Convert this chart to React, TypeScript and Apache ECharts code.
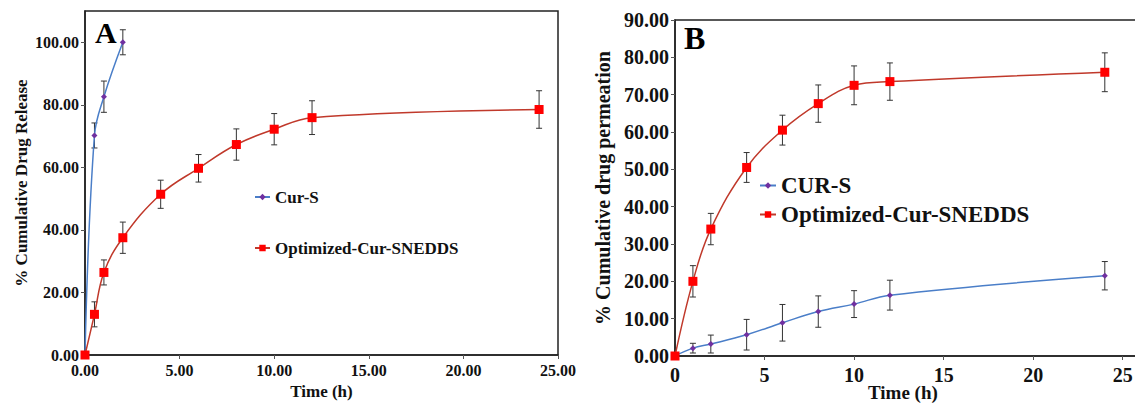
import React, { useEffect, useRef } from "react";
import * as echarts from "echarts";

// Panel A: in-vitro drug release
const timeACur = [0, 0.5, 1, 2];
const relACur = [0, 70.2, 82.6, 100];
const errACur = [0, 4.0, 5.0, 4.0];
const timeASn = [0, 0.5, 1, 2, 4, 6, 8, 10, 12, 24];
const relASn = [0, 13.0, 26.4, 37.5, 51.4, 59.7, 67.3, 72.2, 75.9, 78.5];
const errASn = [0, 4.0, 4.0, 5.0, 4.5, 4.4, 5.0, 5.0, 5.4, 6.0];

// Panel B: ex-vivo permeation
const timeB = [0, 1, 2, 4, 6, 8, 10, 12, 24];
const permBCur = [0, 2.1, 3.2, 5.7, 8.9, 11.9, 13.9, 16.3, 21.5];
const errBCur = [0, 1.3, 2.4, 4.1, 4.9, 4.2, 3.6, 4.0, 3.8];
const permBSn = [0, 20.0, 34.0, 50.5, 60.5, 67.6, 72.5, 73.5, 76.0];
const errBSn = [0, 4.2, 4.2, 4.0, 4.0, 5.0, 5.2, 5.0, 5.2];

const FONT = "'Liberation Serif', 'Times New Roman', serif";
const BLUE = "#4a7ec8";
const PURPLE = "#7030a0";
const DARKRED = "#c0392b";
const RED = "#ff0000";

const pts = (xs: number[], ys: number[]) => xs.map((x, i) => [x, ys[i]]);
const errs = (xs: number[], ys: number[], es: number[]) =>
  xs
    .map((x, i) => [x, ys[i] - es[i], ys[i] + es[i], es[i]])
    .filter((d) => d[3] > 0);

const errRender = (params: any, api: any) => {
  const x = api.value(0);
  const top = api.coord([x, api.value(2)]);
  const bot = api.coord([x, api.value(1)]);
  const w = 3;
  const st = { stroke: "#333", lineWidth: 1 };
  return {
    type: "group",
    children: [
      { type: "line", shape: { x1: top[0], y1: top[1], x2: bot[0], y2: bot[1] }, style: st },
      { type: "line", shape: { x1: top[0] - w, y1: top[1], x2: top[0] + w, y2: top[1] }, style: st },
      { type: "line", shape: { x1: bot[0] - w, y1: bot[1], x2: bot[0] + w, y2: bot[1] }, style: st },
    ],
  };
};

export default function App() {
  const ref = useRef<HTMLDivElement>(null);
  useEffect(() => {
    if (!ref.current) return;
    const chart = echarts.init(ref.current, undefined, { renderer: "svg" });
    const axisLine = { show: true, lineStyle: { color: "#222", width: 1.5 } };
    const tick = { show: true, length: 4, lineStyle: { color: "#555" } };
    const lbl = (size: number, margin: number, fmt: (v: number) => string) => ({
      fontFamily: FONT,
      fontWeight: "bold" as const,
      fontSize: size,
      color: "#111",
      margin,
      formatter: fmt,
    });
    const curStyle = (name: string, xi: number, data: number[][]) => ({
      name,
      type: "line",
      xAxisIndex: xi,
      yAxisIndex: xi,
      data,
      smooth: 0.4,
      symbol: "diamond",
      symbolSize: 6,
      showSymbol: true,
      lineStyle: { color: BLUE, width: 1.5 },
      itemStyle: { color: PURPLE },
      z: 3,
    });
    const snStyle = (name: string, xi: number, data: number[][]) => ({
      name,
      type: "line",
      xAxisIndex: xi,
      yAxisIndex: xi,
      data,
      smooth: 0.4,
      symbol: "rect",
      symbolSize: 9,
      showSymbol: true,
      lineStyle: { color: DARKRED, width: 1.5 },
      itemStyle: { color: RED },
      z: 3,
    });
    const errSeries = (name: string, xi: number, data: number[][]) => ({
      name,
      type: "custom",
      xAxisIndex: xi,
      yAxisIndex: xi,
      data,
      renderItem: errRender,
      encode: { x: 0, y: [1, 2] },
      silent: true,
      z: 2,
    });

    chart.setOption({
      animation: false,
      backgroundColor: "#fff",
      textStyle: { fontFamily: FONT },
      grid: [
        { left: 85, top: 11, width: 473, height: 344, show: true, borderColor: "#222", borderWidth: 1.5, backgroundColor: "transparent", outerBoundsMode: "none" },
        { left: 675, top: 20, width: 471, height: 336, show: true, borderColor: "#222", borderWidth: 1.5, backgroundColor: "transparent", outerBoundsMode: "none" },
      ],
      xAxis: [
        {
          gridIndex: 0,
          type: "value",
          min: 0,
          max: 25,
          interval: 5,
          splitLine: { show: false },
          axisLine,
          axisTick: tick,
          axisLabel: lbl(16, 7, (v: number) => v.toFixed(2)),
          name: "Time (h)",
          nameLocation: "middle",
          nameGap: 24,
          nameTextStyle: { fontFamily: FONT, fontWeight: "bold", fontSize: 17, color: "#111" },
        },
        {
          gridIndex: 1,
          type: "value",
          min: 0,
          max: 26.3,
          interval: 5,
          splitLine: { show: false },
          axisLine,
          axisTick: tick,
          axisLabel: { ...lbl(20, 9, (v: number) => String(v)), showMaxLabel: false },
        },
      ],
      yAxis: [
        {
          gridIndex: 0,
          type: "value",
          min: 0,
          max: 110,
          interval: 20,
          splitLine: { show: false },
          axisLine,
          axisTick: tick,
          axisLabel: { ...lbl(16, 6, (v: number) => v.toFixed(2)), showMaxLabel: false },
          name: "% Cumulative Drug Release",
          nameLocation: "middle",
          nameGap: 55,
          nameTextStyle: { fontFamily: FONT, fontWeight: "bold", fontSize: 17, color: "#111" },
        },
        {
          gridIndex: 1,
          type: "value",
          min: 0,
          max: 90,
          interval: 10,
          splitLine: { show: false },
          axisLine,
          axisTick: tick,
          axisLabel: lbl(20, 6, (v: number) => v.toFixed(2)),
          name: "% Cumulative drug permeation",
          nameLocation: "middle",
          nameGap: 62,
          nameTextStyle: { fontFamily: FONT, fontWeight: "bold", fontSize: 20, color: "#111" },
        },
      ],
      legend: [
        {
          data: ["Cur-S", "Optimized-Cur-SNEDDS"],
          orient: "vertical",
          left: 254,
          top: 187,
          padding: 0,
          itemGap: 31,
          itemWidth: 15,
          itemHeight: 8,
          textStyle: { fontFamily: FONT, fontWeight: "bold", fontSize: 17, color: "#111", lineHeight: 20 },
          selectedMode: false,
        },
        {
          data: ["CUR-S", "Optimized-Cur-SNEDDS"],
          orient: "vertical",
          left: 759,
          top: 174,
          padding: 0,
          itemGap: 6,
          itemWidth: 16,
          itemHeight: 8,
          textStyle: { fontFamily: FONT, fontWeight: "bold", fontSize: 23, color: "#111", lineHeight: 22 },
          selectedMode: false,
        },
      ],
      graphic: [
        { type: "text", left: 95, top: 17, style: { text: "A", font: `bold 30px ${FONT}`, fill: "#000" } },
        { type: "text", left: 684, top: 22, style: { text: "B", font: `bold 32px ${FONT}`, fill: "#000" } },
        { type: "text", left: 868, top: 383, style: { text: "Time (h)", font: `bold 19px ${FONT}`, fill: "#111" } },
      ],
      series: [
        errSeries("errA1", 0, errs(timeACur, relACur, errACur)),
        errSeries("errA2", 0, errs(timeASn, relASn, errASn)),
        curStyle("Cur-S", 0, pts(timeACur, relACur)),
        snStyle("Optimized-Cur-SNEDDS", 0, pts(timeASn, relASn)),
        errSeries("errB1", 1, errs(timeB, permBCur, errBCur)),
        errSeries("errB2", 1, errs(timeB, permBSn, errBSn)),
        curStyle("CUR-S", 1, pts(timeB, permBCur)),
        snStyle("Optimized-Cur-SNEDDS", 1, pts(timeB, permBSn)),
      ],
    });
    return () => chart.dispose();
  }, []);
  return (
    <div
      ref={ref}
      style={{ position: "fixed", left: 0, top: 0, width: 1135, height: 405, background: "#fff" }}
    />
  );
}
